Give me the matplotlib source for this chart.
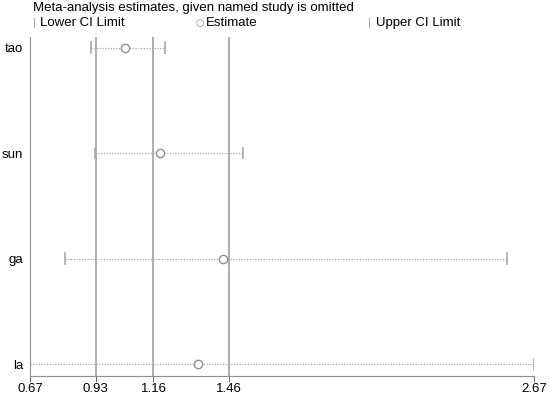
import matplotlib.pyplot as plt

studies = ['tao', 'sun', 'ga', 'la']
estimate = [1.046, 1.184, 1.434, 1.337]
lower = [0.912, 0.929, 0.807, 0.67]
upper = [1.205, 1.514, 2.561, 2.67]
ref_lines = [0.93, 1.16, 1.46]
xticks = [0.67, 0.93, 1.16, 1.46, 2.67]

plt.rcParams['font.family'] = ['Liberation Sans', 'DejaVu Sans']
plt.rcParams['font.size'] = 9.5

fig = plt.figure(figsize=(5.5, 3.96), dpi=100)
ax = fig.add_axes([30 / 550, 20 / 396, 504 / 550, 339 / 396])

ypos = list(range(len(studies), 0, -1))

for v in ref_lines:
    ax.axvline(v, color='#a0a0a0', lw=1.2, zorder=1)

gray = '#a8a8a8'
for y, lo, est, hi in zip(ypos, lower, estimate, upper):
    ax.plot([lo, hi], [y, y], color=gray, lw=0.9, ls=(0, (1, 1.2)), zorder=2)
    ax.plot([lo, lo], [y - 0.05, y + 0.05], color=gray, lw=1.2, zorder=2)
    ax.plot([hi, hi], [y - 0.05, y + 0.05], color=gray, lw=1.2, zorder=2)
    ax.plot(est, y, 'o', ms=6, mfc='white', mec='#909090', mew=1.0, zorder=3)

ax.set_xlim(0.67, 2.67)
ax.set_ylim(0.89, 4.1)
ax.set_xticks(xticks)
ax.set_xticklabels(['%.2f' % t for t in xticks])
ax.set_yticks(ypos)
ax.set_yticklabels(studies)
ax.tick_params(axis='y', length=0, pad=5)
ax.tick_params(axis='x', length=4, color='#707070', pad=1)
for s in ['top', 'right']:
    ax.spines[s].set_visible(False)
ax.spines['left'].set_color('#909090')
ax.spines['bottom'].set_color('#909090')

ly = 1 - 23 / 396
fig.text(33 / 550, 1 - 8 / 396, 'Meta-analysis estimates, given named study is omitted',
         va='center', ha='left')
fig.text(33 / 550, ly, '|', color='#a0a0a0', va='center', fontsize=8)
fig.text(40 / 550, ly, 'Lower CI Limit', va='center')
fig.text(196 / 550, ly, '\u25cb', color='#909090', va='center', fontsize=7,
         family='DejaVu Sans')
fig.text(206 / 550, ly, 'Estimate', va='center')
fig.text(368 / 550, ly, '|', color='#a0a0a0', va='center', fontsize=8)
fig.text(376 / 550, ly, 'Upper CI Limit', va='center')

fig.savefig('out.png', dpi=100)
